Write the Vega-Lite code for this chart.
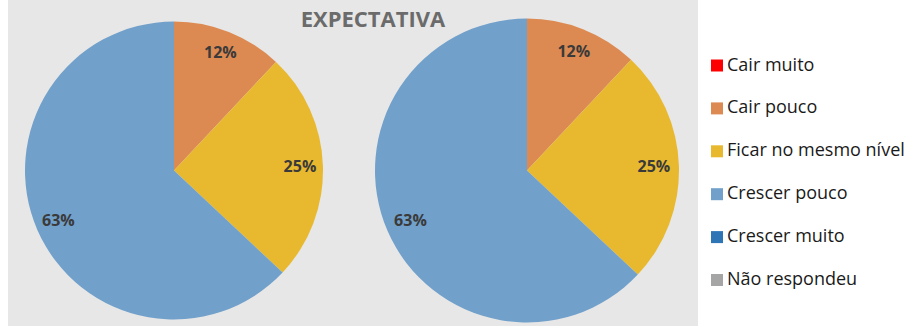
{
  "$schema": "https://vega.github.io/schema/vega-lite/v6.json",
  "width": 690,
  "height": 341,
  "padding": {"left": 8, "top": 0, "right": 0, "bottom": 0},
  "background": "white",
  "title": {
    "text": "EXPECTATIVA",
    "offset": -38,
    "dy": 11,
    "baseline": "alphabetic",
    "dx": 20,
    "fontSize": 22,
    "fontWeight": "bold",
    "font": "Open Sans",
    "color": "#6b6b6b"
  },
  "config": {
    "view": {"fill": "#e7e7e7", "stroke": null}
  },
  "data": {
    "values": [
      {"grafico": 1, "categoria": "Cair muito", "ordem": 1, "valor": 0},
      {"grafico": 1, "categoria": "Cair pouco", "ordem": 2, "valor": 0.12},
      {"grafico": 1, "categoria": "Ficar no mesmo nível", "ordem": 3, "valor": 0.25},
      {"grafico": 1, "categoria": "Crescer pouco", "ordem": 4, "valor": 0.63},
      {"grafico": 1, "categoria": "Crescer muito", "ordem": 5, "valor": 0},
      {"grafico": 1, "categoria": "Não respondeu", "ordem": 6, "valor": 0},
      {"grafico": 2, "categoria": "Cair muito", "ordem": 1, "valor": 0},
      {"grafico": 2, "categoria": "Cair pouco", "ordem": 2, "valor": 0.12},
      {"grafico": 2, "categoria": "Ficar no mesmo nível", "ordem": 3, "valor": 0.25},
      {"grafico": 2, "categoria": "Crescer pouco", "ordem": 4, "valor": 0.63},
      {"grafico": 2, "categoria": "Crescer muito", "ordem": 5, "valor": 0},
      {"grafico": 2, "categoria": "Não respondeu", "ordem": 6, "valor": 0}
    ]
  },
  "encoding": {
    "theta": {"field": "valor", "type": "quantitative", "stack": true},
    "x": {"field": "grafico", "type": "ordinal", "scale": {"type": "point", "range": [166, 519], "padding": 0}, "axis": null},
    "order": {"field": "ordem", "type": "quantitative", "sort": "ascending"}
  },
  "layer": [
    {
      "mark": {"type": "arc"},
      "encoding": {
        "radius": {"field": "grafico", "type": "quantitative", "scale": {"type": "linear", "domain": [1, 2], "range": [149, 152], "zero": false, "nice": false}},
        "radius2": {"value": 0},
        "color": {
          "field": "categoria",
          "type": "nominal",
          "scale": {
            "domain": ["Cair muito", "Cair pouco", "Ficar no mesmo nível", "Crescer pouco", "Crescer muito", "Não respondeu"],
            "range": ["#ff0000", "#dd8a52", "#e8b92f", "#71a0ca", "#2e75b6", "#a5a5a5"]
          },
          "legend": {
            "orient": "none",
            "legendX": 700,
            "legendY": 56.5,
            "title": null,
            "symbolType": "square",
            "symbolSize": 144,
            "symbolStrokeWidth": 0,
            "labelFont": "Open Sans",
            "labelFontSize": 18,
            "labelColor": "#1a1a1a",
            "rowPadding": 24.9,
            "labelOffset": 1,
            "padding": 0,
            "labelLimit": 300,
            "encode": {
              "symbols": {
                "update": {
                  "fill": {"signal": "datum.value === 'Cair pouco' ? '#ed7d31' : datum.value === 'Ficar no mesmo nível' ? '#ffc000' : datum.value === 'Crescer pouco' ? '#5b9bd5' : scale('color', datum.value)"}
                }
              }
            }
          }
        }
      }
    },
    {
      "transform": [{"filter": "datum.valor > 0"}],
      "mark": {"type": "text", "align": "center", "baseline": "middle", "font": "Open Sans", "fontWeight": "bold", "fontSize": 16, "color": "#3a3a3a"},
      "encoding": {
        "radius": {"field": "grafico", "type": "quantitative", "scale": {"type": "linear", "domain": [1, 2], "range": [126, 127], "zero": false, "nice": false}},
        "text": {"field": "valor", "type": "quantitative", "format": ".0%"}
      }
    }
  ],
  "resolve": {"scale": {"radius": "independent"}}
}
